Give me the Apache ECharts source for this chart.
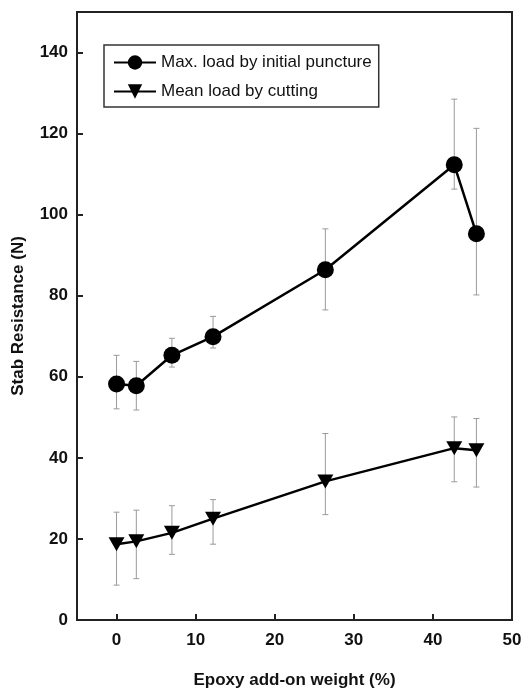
<!DOCTYPE html>
<html>
<head>
<meta charset="utf-8">
<script src="https://cdn.jsdelivr.net/npm/echarts@6/dist/echarts.min.js"></script>
<style>html,body{margin:0;padding:0;background:#fff}#c{width:526px;height:694px}</style>
</head>
<body>
<div id="c"></div>
<script>
// Data
const epoxyX = [0, 2.5, 7.0, 12.2, 26.4, 42.7, 45.5];
const maxLoad = [58.2, 57.8, 65.3, 69.9, 86.4, 112.3, 95.3];
const maxLoadLow = [52.1, 51.8, 62.4, 67.1, 76.5, 106.3, 80.2];
const maxLoadHigh = [65.3, 63.8, 69.5, 74.9, 96.5, 128.5, 121.3];
const meanLoad = [18.7, 19.4, 21.5, 25.0, 34.2, 42.4, 41.9];
const meanLoadLow = [8.6, 10.2, 16.2, 18.7, 26.0, 34.1, 32.8];
const meanLoadHigh = [26.6, 27.1, 28.2, 29.7, 46.0, 50.1, 49.7];
const xTicks = [0, 10, 20, 30, 40, 50];
const yTicks = [0, 20, 40, 60, 80, 100, 120, 140];
const seriesNames = ['Max. load by initial puncture', 'Mean load by cutting'];

const FONT = "'Liberation Sans', Arial, Helvetica, sans-serif";
const chart = echarts.init(document.getElementById('c'), null, {renderer: 'canvas'});

function pairs(xs, ys) { return xs.map((x, i) => [x, ys[i]]); }
function errData(xs, lo, hi) { return xs.map((x, i) => [x, lo[i], hi[i]]); }

function errRender(params, api) {
  const x = api.value(0);
  const top = api.coord([x, api.value(2)]);
  const bot = api.coord([x, api.value(1)]);
  const cap = 3;
  const st = {stroke: '#9a9a9a', lineWidth: 1};
  return {
    type: 'group',
    children: [
      {type: 'line', shape: {x1: top[0], y1: top[1], x2: bot[0], y2: bot[1]}, style: st},
      {type: 'line', shape: {x1: top[0] - cap, y1: top[1], x2: top[0] + cap, y2: top[1]}, style: st},
      {type: 'line', shape: {x1: bot[0] - cap, y1: bot[1], x2: bot[0] + cap, y2: bot[1]}, style: st}
    ]
  };
}

chart.setOption({
  animation: false,
  backgroundColor: '#fff',
  grid: {left: 77, right: 14, top: 12, bottom: 70, show: true, borderColor: '#222', borderWidth: 2, backgroundColor: 'transparent'},
  legend: {
    data: seriesNames,
    orient: 'vertical',
    left: 104, top: 45,
    padding: [9, 7, 7, 9],
    itemWidth: 42, itemHeight: 18, itemGap: 12,
    borderColor: '#333', borderWidth: 1.5, backgroundColor: '#fff',
    textStyle: {fontFamily: FONT, fontSize: 17, color: '#111'}
  },
  xAxis: {
    type: 'value', min: -5, max: 50,
    name: 'Epoxy add-on weight (%)', nameLocation: 'middle', nameGap: 52,
    nameTextStyle: {fontFamily: FONT, fontSize: 17, fontWeight: 'bold', color: '#111'},
    axisLine: {onZero: false, lineStyle: {color: '#222', width: 2}},
    axisTick: {inside: true, length: 6, lineStyle: {color: '#222', width: 2}, customValues: xTicks},
    axisLabel: {customValues: xTicks, margin: 12, fontFamily: FONT, fontSize: 17, fontWeight: 'bold', color: '#111'},
    splitLine: {show: false}
  },
  yAxis: {
    type: 'value', min: 0, max: 150,
    name: 'Stab Resistance (N)', nameLocation: 'middle', nameGap: 50, nameRotate: 90,
    nameTextStyle: {fontFamily: FONT, fontSize: 17, fontWeight: 'bold', color: '#111'},
    axisLine: {show: true, onZero: false, lineStyle: {color: '#222', width: 2}},
    axisTick: {show: true, inside: true, length: 6, lineStyle: {color: '#222', width: 2}, customValues: yTicks},
    axisLabel: {customValues: yTicks, margin: 9, fontFamily: FONT, fontSize: 17, fontWeight: 'bold', color: '#111'},
    splitLine: {show: false}
  },
  series: [
    {type: 'custom', name: 'errMax', renderItem: errRender, data: errData(epoxyX, maxLoadLow, maxLoadHigh), encode: {x: 0, y: [1, 2]}, z: 1, silent: true},
    {type: 'custom', name: 'errMean', renderItem: errRender, data: errData(epoxyX, meanLoadLow, meanLoadHigh), encode: {x: 0, y: [1, 2]}, z: 1, silent: true},
    {
      type: 'line', name: seriesNames[0], data: pairs(epoxyX, maxLoad),
      symbol: 'circle', symbolSize: 17,
      lineStyle: {color: '#000', width: 2.5}, itemStyle: {color: '#000'}, z: 3
    },
    {
      type: 'line', name: seriesNames[1], data: pairs(epoxyX, meanLoad),
      symbol: 'triangle', symbolSize: [16, 14], symbolRotate: 180,
      lineStyle: {color: '#000', width: 2.5}, itemStyle: {color: '#000'}, z: 3
    }
  ]
});
</script>
</body>
</html>
